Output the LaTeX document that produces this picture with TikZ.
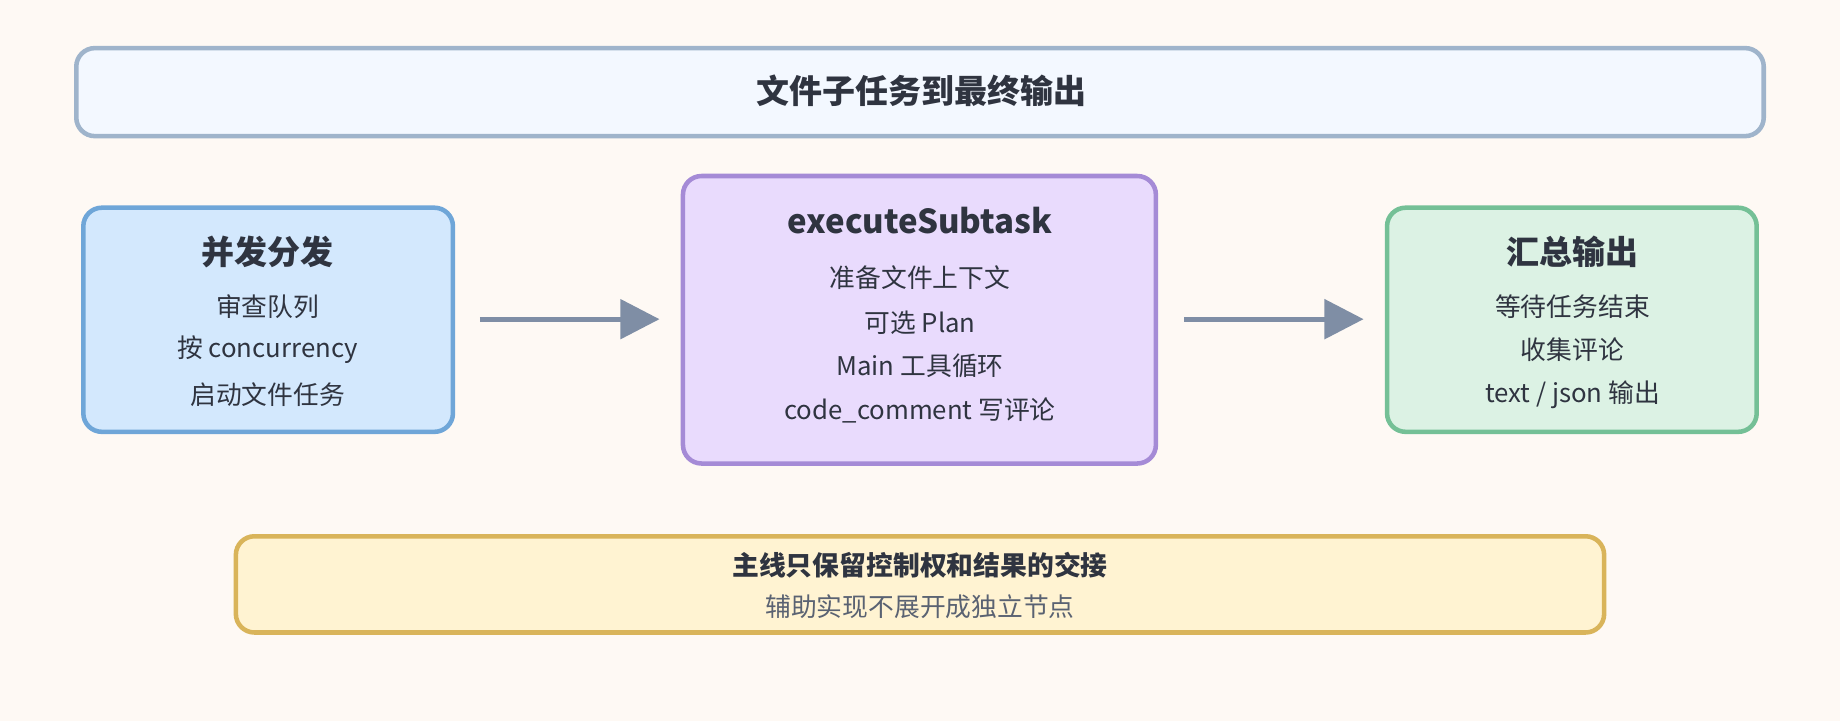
\documentclass[tikz,border=0pt]{standalone}
\usepackage{fontspec}
\setmainfont{Noto Sans CJK SC}
\usetikzlibrary{arrows.meta}
\definecolor{bg}{HTML}{FEF9F4}
\definecolor{txt}{HTML}{2F3440}
\definecolor{sub}{HTML}{5A6272}
\definecolor{arr}{HTML}{7F8EA5}
\definecolor{tf}{HTML}{F3F8FF}\definecolor{td}{HTML}{9FB4CB}
\definecolor{lf}{HTML}{D3E8FD}\definecolor{ld}{HTML}{6FA6D8}
\definecolor{mf}{HTML}{E9DBFD}\definecolor{md}{HTML}{A58BD6}
\definecolor{rf}{HTML}{DCF2E4}\definecolor{rd}{HTML}{74C096}
\definecolor{bf}{HTML}{FFF3D2}\definecolor{bd}{HTML}{D9B45A}
\tikzset{
  box/.style={rounded corners=9pt, line width=2.2pt},
  ttl/.style={font=\fontsize{16}{18}\selectfont\bfseries, text=txt},
  ln/.style={font=\fontsize{12.5}{14}\selectfont, text=txt},
  conn/.style={draw=arr, line width=2.4pt, -{Triangle[length=19pt,width=19pt]}}
}
\begin{document}
\begin{tikzpicture}[x=0.02cm,y=-0.02cm]
\fill[bg] (0,0) rectangle (1568,614);
\useasboundingbox (0,0) rectangle (1568,614);
% title
\draw[box, draw=td, fill=tf] (65,41) rectangle (1503,116);
\node[ttl] (title) at (785,77) {文件子任务到最终输出};
% left
\draw[box, draw=ld, fill=lf] (71,177) rectangle (386,368);
\node (L) at (228,272) {};
\node[ttl] (l0) at (228,215) {并发分发};
\node[ln] (l1) at (228,261) {审查队列};
\node[ln] (l2) at (228,298) {按 concurrency};
\node[ln] (l3) at (228,336) {启动文件任务};
% middle
\draw[box, draw=md, fill=mf] (582,150) rectangle (985,395);
\node[ttl] (m0) at (784,188) {executeSubtask};
\node[ln] (m1) at (784,237) {准备文件上下文};
\node[ln] (m2) at (784,275) {可选 Plan};
\node[ln] (m3) at (784,312) {Main 工具循环};
\node[ln] (m4) at (784,350) {code\_comment 写评论};
% right
\draw[box, draw=rd, fill=rf] (1182,177) rectangle (1497,368);
\node[ttl] (r0) at (1340,215) {汇总输出};
\node[ln] (r1) at (1340,261) {等待任务结束};
\node[ln] (r2) at (1340,298) {收集评论};
\node[ln] (r3) at (1340,336) {text / json 输出};
% arrows
\coordinate (a1) at (409,272); \coordinate (b1) at (562,272);
\coordinate (a2) at (1009,272); \coordinate (b2) at (1162,272);
\draw[conn] (a1) -- (b1);
\draw[conn] (a2) -- (b2);
% bottom
\draw[box, draw=bd, fill=bf] (201,457) rectangle (1367,539);
\node[font=\fontsize{13}{15}\selectfont\bfseries, text=txt] (n1) at (784,482) {主线只保留控制权和结果的交接};
\node[ln, text=sub] (n2) at (784,517) {辅助实现不展开成独立节点};
\end{tikzpicture}
\end{document}
